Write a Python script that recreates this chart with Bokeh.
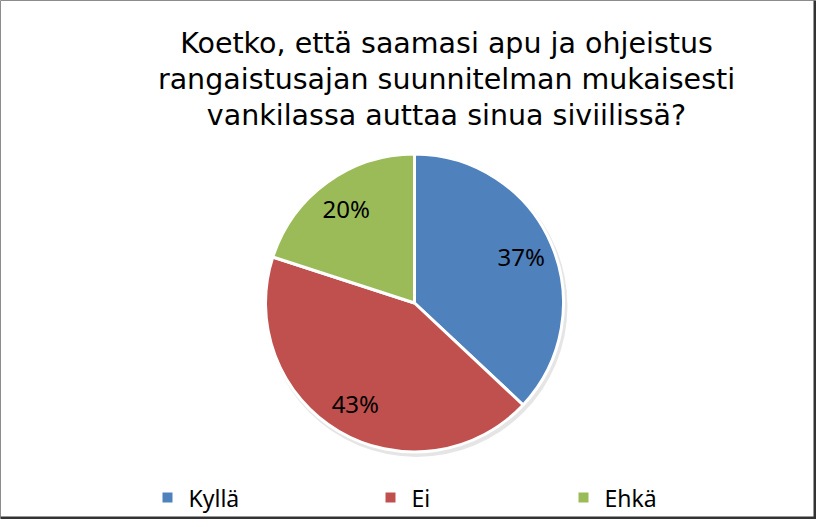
import math
from bokeh.plotting import figure
from bokeh.models import Range1d, ColumnDataSource
from bokeh.embed import file_html
from bokeh.resources import INLINE
from bokeh.core.properties import value

# ---- data ----
categories = ["Kyllä", "Ei", "Ehkä"]
shares = [37, 43, 20]
colors = ["#4F81BD", "#C0504D", "#9BBB59"]
title_lines = [
    "Koetko, että saamasi apu ja ohjeistus",
    "rangaistusajan suunnitelman mukaisesti",
    "vankilassa auttaa sinua siviilissä?",
]

# ---- layout constants (pixels; y measured from the top) ----
W, H = 816, 519
TITLE_FONT = "DejaVu Sans"
FONT = "Noto Sans"
CX, CY_TOP, R = 414, 302.5, 149
LABEL_FRAC = 0.78
TITLE_X = 446
TITLE_MID_TOP, TITLE_STEP = 42.5, 36
LEGEND_MID_TOP = 497
LEGEND_MARK_X = [167, 390, 583]
LEGEND_GAP = 21

CY = H - CY_TOP

p = figure(width=W, height=H, x_range=Range1d(0, W), y_range=Range1d(0, H),
           output_backend="svg", toolbar_location=None, min_border=0)
p.axis.visible = False
p.grid.visible = False
p.outline_line_color = "#8c8c8c"
p.outline_line_width = 1
p.background_fill_color = "white"
p.border_fill_color = "white"

# pie geometry from shares
total = sum(shares)
starts, ends, lx, ly, labs = [], [], [], [], []
cum = 0
for s in shares:
    a0 = math.pi / 2 - 2 * math.pi * cum / total
    cum += s
    a1 = math.pi / 2 - 2 * math.pi * cum / total
    starts.append(a0)
    ends.append(a1)
    mid = (a0 + a1) / 2
    lx.append(CX + LABEL_FRAC * R * math.cos(mid))
    ly.append(CY + LABEL_FRAC * R * math.sin(mid))
    labs.append(f"{round(100 * s / total)}%")

src = ColumnDataSource(dict(start=starts, end=ends, color=colors, cat=categories,
                            lx=lx, ly=ly, lab=labs))

# soft shadow
p.circle(x=CX + 2, y=CY - 3, radius=R + 2, fill_color="black", fill_alpha=0.10,
         line_color=None)

p.wedge(x=CX, y=CY, radius=R, start_angle="start", end_angle="end",
        direction="clock", fill_color="color", line_color="white", line_width=3,
        source=src)

p.text(x="lx", y="ly", text="lab", source=src, text_font=value(FONT),
       text_font_size="24px", text_color="black", text_align="center",
       text_baseline="middle")

# title
p.text(x=[TITLE_X] * len(title_lines),
       y=[H - (TITLE_MID_TOP + i * TITLE_STEP) for i in range(len(title_lines))],
       text=title_lines, text_font=value(TITLE_FONT), text_font_size="28.5px",
       text_color="black", text_align="center", text_baseline="middle")

# legend
p.scatter(x=LEGEND_MARK_X, y=[H - LEGEND_MID_TOP] * 3, marker="square", size=10,
          fill_color=colors, line_color=None)
p.text(x=[x + LEGEND_GAP for x in LEGEND_MARK_X], y=[H - LEGEND_MID_TOP] * 3,
       text=categories, text_font=value(FONT), text_font_size="23px",
       text_color="black", text_align="left", text_baseline="middle")

# frame shadow (right and bottom)
p.segment(x0=[W - 1.5, 0], y0=[0, 1.5], x1=[W - 1.5, W], y1=[H, 1.5],
          line_color="#333333", line_width=3)

open("out.html", "w").write(file_html(p, INLINE))
